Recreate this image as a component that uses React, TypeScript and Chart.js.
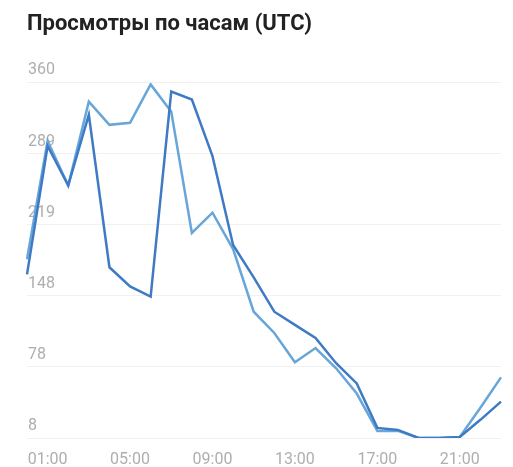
import React, { useEffect, useRef } from "react";
import { Chart, registerables } from "chart.js";

Chart.register(...registerables);

const titleText = "Просмотры по часам (UTC)";
const hours = [
  "00:00", "01:00", "02:00", "03:00", "04:00", "05:00", "06:00", "07:00",
  "08:00", "09:00", "10:00", "11:00", "12:00", "13:00", "14:00", "15:00",
  "16:00", "17:00", "18:00", "19:00", "20:00", "21:00", "22:00", "23:00",
];
const shownHours = ["01:00", "05:00", "09:00", "13:00", "17:00", "21:00"];
const seriesDark = [170, 297, 258, 328, 177, 158, 148, 351, 343, 287, 199, 167, 133, 120, 107, 82, 62, 18, 16, 8, 8, 9, 26, 44];
const seriesLight = [185, 302, 258, 341, 318, 320, 358, 331, 211, 231, 195, 133, 112, 83, 97, 77, 52, 15, 15, 8, 8, 9, 38, 68];
const yTickValues = [8, 78.4, 148.8, 219.2, 289.6, 360];
const yTickLabels = ["8", "78", "148", "219", "289", "360"];

export default function App() {
  const ref = useRef<HTMLCanvasElement | null>(null);

  useEffect(() => {
    if (!ref.current) return;
    const chart = new Chart(ref.current, {
      type: "line",
      data: {
        labels: hours,
        datasets: [
          {
            label: "A",
            data: seriesDark,
            borderColor: "#3f7bc4",
            borderWidth: 2.5,
            pointRadius: 0,
            tension: 0,
            fill: false,
          },
          {
            label: "B",
            data: seriesLight,
            borderColor: "#68a6d9",
            borderWidth: 2.5,
            pointRadius: 0,
            tension: 0,
            fill: false,
          },
        ],
      },
      options: {
        animation: false,
        responsive: true,
        maintainAspectRatio: false,
        layout: { padding: { left: 27, right: 3, top: 0, bottom: 0 } },
        plugins: {
          legend: { display: false },
          tooltip: { enabled: false },
          title: {
            display: true,
            text: titleText,
            align: "start",
            color: "#222222",
            font: { family: "Roboto", size: 22, weight: "bold" },
            padding: { top: 11, bottom: 45 },
          },
        },
        scales: {
          x: {
            offset: false,
            grid: { display: false, drawTicks: false },
            border: { display: false },
            afterFit: (scale: any) => {
              scale.height = 29;
            },
            ticks: {
              autoSkip: false,
              maxRotation: 0,
              padding: 12,
              color: "#aeaeae",
              font: { family: "Roboto", size: 16 },
              callback: (_v: any, i: number) => (shownHours.includes(hours[i]) ? hours[i] : ""),
            },
          },
          y: {
            min: 8,
            max: 360,
            afterBuildTicks: (scale: any) => {
              scale.ticks = yTickValues.map((v) => ({ value: v }));
            },
            afterFit: (scale: any) => {
              scale.width = 0;
            },
            grid: { color: "#f1f1f1", drawTicks: false, lineWidth: 1 },
            border: { display: false },
            ticks: {
              mirror: true,
              padding: 1,
              labelOffset: -12,
              color: "#aeaeae",
              font: { family: "Roboto", size: 16 },
              callback: (_v: any, i: number) => yTickLabels[i],
            },
          },
        },
      },
    });
    return () => chart.destroy();
  }, []);

  return (
    <div style={{ position: "fixed", left: 0, top: 0, width: 513, height: 467, background: "#fff" }}>
      <canvas ref={ref} />
    </div>
  );
}
